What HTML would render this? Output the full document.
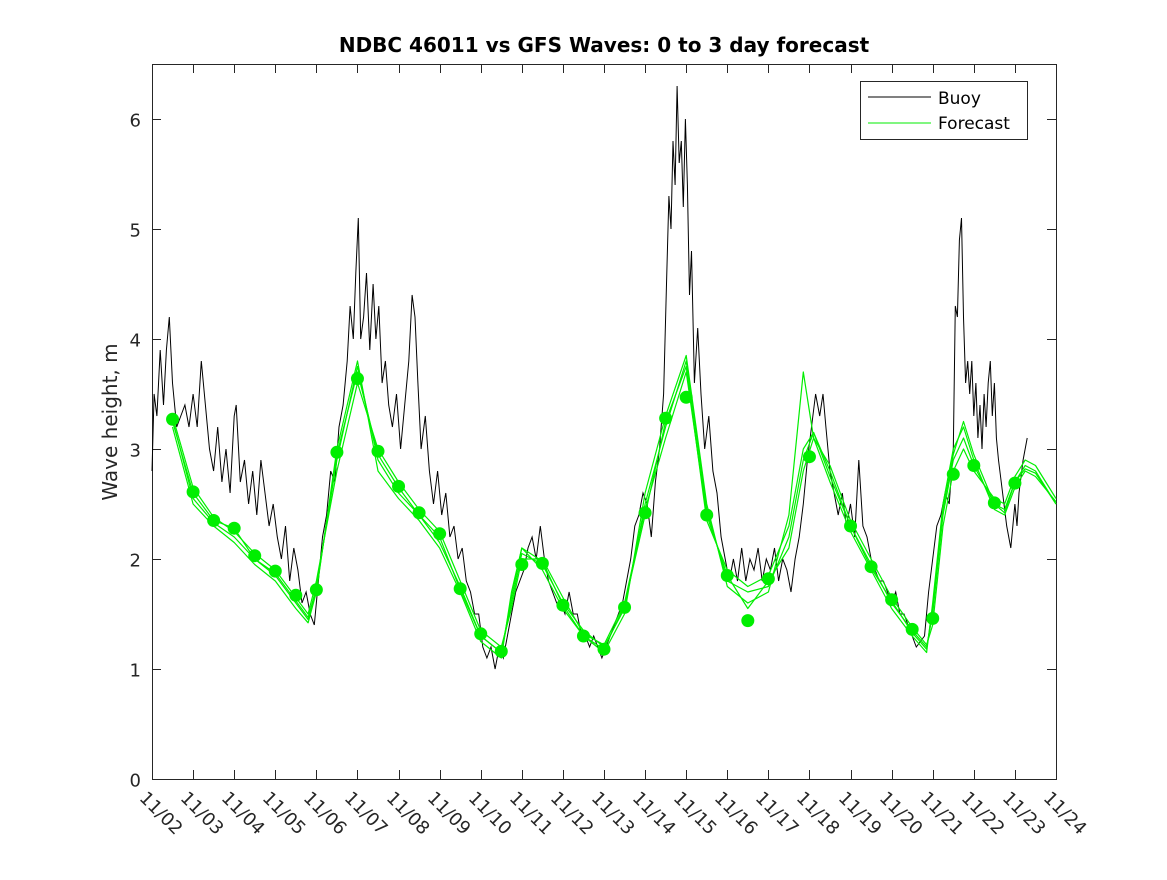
<!DOCTYPE html>
<html><head><meta charset="utf-8"><style>
body{margin:0;background:#fff;}
svg text{font-family:"DejaVu Sans","Liberation Sans",sans-serif;}
</style></head><body>
<svg id="chart" width="1167" height="875">
<rect x="0" y="0" width="1167" height="875" fill="#fff"/>
<text x="604" y="52" text-anchor="middle" font-size="20" font-weight="bold">NDBC 46011 vs GFS Waves: 0 to 3 day forecast</text>
<g id="plot"></g>
<text transform="translate(117,422) rotate(-90)" text-anchor="middle" font-size="20" fill="#262626">Wave height, m</text>
<g>
<rect x="860.5" y="81.5" width="167" height="58" fill="#fff" stroke="#262626"/>
<line x1="868" y1="97" x2="931" y2="97" stroke="#000"/>
<text x="938" y="104" font-size="17" fill="#000">Buoy</text>
<line x1="868" y1="123" x2="931" y2="123" stroke="#00ee00"/>
<text x="938" y="129" font-size="17" fill="#000">Forecast</text>
</g>
</svg>
<script>
const yTicks=[0,1,2,3,4,5,6];
const xTickLabels=["11/02","11/03","11/04","11/05","11/06","11/07","11/08","11/09","11/10","11/11","11/12","11/13","11/14","11/15","11/16","11/17","11/18","11/19","11/20","11/21","11/22","11/23","11/24"];
const buoyT=[0,0.05,0.12,0.2,0.28,0.35,0.42,0.5,0.6,0.7,0.8,0.9,1.0,1.1,1.2,1.3,1.4,1.5,1.6,1.7,1.8,1.9,2.0,2.05,2.15,2.25,2.35,2.45,2.55,2.65,2.75,2.85,2.95,3.05,3.15,3.25,3.35,3.45,3.55,3.65,3.75,3.85,3.95,4.05,4.15,4.25,4.35,4.45,4.55,4.65,4.75,4.82,4.9,4.96,5.02,5.08,5.15,5.22,5.3,5.38,5.45,5.52,5.6,5.68,5.76,5.85,5.95,6.05,6.15,6.25,6.33,6.4,6.47,6.55,6.65,6.75,6.85,6.95,7.05,7.15,7.25,7.35,7.45,7.55,7.65,7.75,7.85,7.95,8.05,8.15,8.25,8.35,8.45,8.55,8.65,8.75,8.85,8.95,9.05,9.15,9.25,9.35,9.45,9.55,9.65,9.75,9.85,9.95,10.05,10.15,10.25,10.35,10.45,10.55,10.65,10.75,10.85,10.95,11.05,11.15,11.25,11.35,11.45,11.55,11.65,11.75,11.85,11.95,
12.05,12.15,12.25,12.35,12.45,12.52,12.58,12.63,12.68,12.73,12.78,12.83,12.88,12.93,12.98,13.03,13.08,13.13,13.2,13.28,13.36,
13.45,13.55,13.65,13.75,13.85,13.95,14.05,14.15,14.25,14.35,14.45,14.55,14.65,14.75,14.85,14.95,15.05,15.15,15.25,15.35,15.45,15.55,15.65,15.75,15.85,15.95,16.05,16.15,16.25,16.33,16.4,16.5,16.6,16.7,16.8,16.9,17.0,17.1,17.2,17.3,17.4,17.5,17.6,17.7,17.8,17.9,18.0,18.1,18.2,18.3,18.4,18.5,18.6,18.7,18.8,18.9,19.0,19.1,19.2,19.3,19.4,19.5,19.55,19.6,19.65,19.7,19.75,19.8,19.85,19.9,19.95,20.0,20.05,20.1,20.15,20.2,20.25,20.3,20.35,20.4,20.45,20.5,20.55,20.6,20.7,20.8,20.9,21.0,21.05,21.1,21.2,21.3,21.35];
const buoyV=[2.8,3.5,3.3,3.9,3.4,3.9,4.2,3.6,3.2,3.3,3.4,3.2,3.5,3.2,3.8,3.4,3.0,2.8,3.2,2.7,3.0,2.6,3.3,3.4,2.7,2.9,2.5,2.8,2.4,2.9,2.6,2.3,2.5,2.2,2.0,2.3,1.8,2.1,1.9,1.6,1.7,1.5,1.4,1.8,2.2,2.4,2.8,2.7,3.2,3.4,3.8,4.3,4.0,4.6,5.1,4.0,4.2,4.6,3.9,4.5,4.0,4.3,3.6,3.8,3.4,3.2,3.5,3.0,3.4,3.8,4.4,4.2,3.6,3.0,3.3,2.8,2.5,2.8,2.4,2.6,2.2,2.3,2.0,2.1,1.8,1.7,1.5,1.5,1.2,1.1,1.2,1.0,1.2,1.1,1.3,1.5,1.7,1.8,1.9,2.1,2.2,2.0,2.3,2.0,1.8,1.7,1.6,1.6,1.5,1.7,1.5,1.5,1.3,1.3,1.2,1.3,1.2,1.1,1.2,1.3,1.4,1.5,1.6,1.8,2.0,2.3,2.4,
2.6,2.5,2.2,2.7,3.0,3.5,4.5,5.3,5.0,5.8,5.4,6.3,5.6,5.8,5.2,6.0,5.4,4.4,4.8,3.6,4.1,
3.5,3.0,3.3,2.8,2.6,2.2,2.0,1.8,2.0,1.8,2.1,1.8,2.0,1.9,2.1,1.8,2.0,1.9,2.1,1.8,2.0,1.9,1.7,2.0,2.2,2.5,2.9,3.2,3.5,3.3,3.5,3.2,2.8,2.6,2.4,2.6,2.3,2.5,2.2,2.9,2.3,2.2,2.0,1.9,1.8,1.8,1.7,1.6,1.7,1.5,1.5,1.4,1.3,1.2,1.25,1.3,1.7,2.0,2.3,2.4,2.6,2.5,3.0,4.3,4.2,4.9,5.1,4.2,3.6,3.8,3.5,3.8,3.3,3.6,3.1,3.4,3.0,3.5,3.2,3.6,3.8,3.3,3.6,3.1,2.9,2.6,2.3,2.1,2.5,2.3,2.6,2.9,3.1];
const dotT=[0.5,1,1.5,2,2.5,3,3.5,4,4.5,5,5.5,6,6.5,7,7.5,8,8.5,9,9.5,10,10.5,11,11.5,12,12.5,13,13.5,14,14.5,15,16,17,17.5,18,18.5,19,19.5,20,20.5,21];
const dotV=[3.27,2.61,2.35,2.28,2.03,1.89,1.67,1.72,2.97,3.64,2.98,2.66,2.42,2.23,1.73,1.32,1.16,1.95,1.96,1.58,1.30,1.18,1.56,2.42,3.28,3.47,2.40,1.85,1.44,1.82,2.93,2.30,1.93,1.63,1.36,1.46,2.77,2.85,2.51,2.69];
const fcT=[0.5,1,1.5,2,2.5,3,3.5,3.8,4,4.5,5,5.5,6,6.5,7,7.5,8,8.5,8.75,9,9.5,10,10.5,11,11.5,12,12.5,13,13.5,14,14.5,15,15.5,15.85,16.1,16.5,17,17.5,18,18.5,18.85,19,19.25,19.5,19.75,20,20.5,20.75,21,21.25,21.5,22];
const fcA=[3.27,2.55,2.33,2.2,2.0,1.85,1.6,1.45,1.75,2.9,3.75,2.9,2.6,2.4,2.15,1.75,1.3,1.15,1.6,2.05,1.95,1.6,1.35,1.2,1.55,2.5,3.2,3.8,2.45,1.8,1.7,1.75,2.2,2.9,3.15,2.8,2.3,1.95,1.6,1.35,1.2,1.5,2.4,2.9,3.1,2.85,2.5,2.45,2.7,2.85,2.8,2.5];
const fcB=[3.2,2.5,2.3,2.15,1.95,1.8,1.55,1.42,1.7,3.0,3.8,2.8,2.55,2.35,2.1,1.7,1.25,1.1,1.7,2.1,1.9,1.55,1.3,1.15,1.5,2.6,3.3,3.85,2.5,1.75,1.6,1.7,2.4,3.7,3.1,2.7,2.25,1.9,1.55,1.3,1.15,1.6,2.5,3.0,3.2,2.9,2.45,2.4,2.65,2.8,2.75,2.52];
const fcC=[3.3,2.65,2.38,2.25,2.05,1.9,1.65,1.5,1.8,2.8,3.6,3.0,2.7,2.45,2.25,1.8,1.35,1.2,1.55,2.0,2.0,1.65,1.32,1.22,1.6,2.45,3.1,3.7,2.4,1.85,1.55,1.8,2.1,2.8,3.1,2.85,2.35,2.0,1.65,1.38,1.22,1.4,2.3,2.8,3.0,2.8,2.55,2.5,2.75,2.9,2.85,2.55];
const fcD=[3.25,2.6,2.35,2.28,2.0,1.87,1.62,1.47,1.72,2.95,3.7,2.95,2.65,2.4,2.2,1.72,1.3,1.15,1.65,2.1,1.98,1.58,1.3,1.18,1.58,2.4,3.25,3.75,2.35,1.9,1.75,1.85,2.3,3.0,3.15,2.75,2.3,1.92,1.62,1.33,1.18,1.55,2.45,2.95,3.25,2.95,2.5,2.42,2.7,2.82,2.78,2.5];
const X0=152,X1=1056,Y0=779,Y1=64;
function xs(d){return X0+d*(X1-X0)/22;}
function ys(v){return Y0-v*(Y0-Y1)/6.5;}
const NS="http://www.w3.org/2000/svg";
const plot=document.getElementById('plot');
function mk(tag,attrs,parent){const e=document.createElementNS(NS,tag);for(const k in attrs)e.setAttribute(k,attrs[k]);(parent||plot).appendChild(e);return e;}
const box=mk('rect',{x:X0+0.5,y:Y1+0.5,width:X1-X0,height:Y0-Y1,fill:'#fff',stroke:'#262626'});


yTicks.forEach(v=>{
  const y=Math.round(ys(v))+0.5;
  mk('line',{x1:X0,y1:y,x2:X0+9,y2:y,stroke:'#262626'});
  mk('line',{x1:X1-9,y1:y,x2:X1,y2:y,stroke:'#262626'});
  const t=mk('text',{x:X0-11,y:y+7,'text-anchor':'end','font-size':18,fill:'#262626'});
  t.textContent=v;
  
  
});
xTickLabels.forEach((lab,i)=>{
  const x=Math.round(xs(i))+0.5;
  mk('line',{x1:x,y1:Y0,x2:x,y2:Y0-9,stroke:'#262626'});
  mk('line',{x1:x,y1:Y1,x2:x,y2:Y1+9,stroke:'#262626'});
  const t=mk('text',{x:0,y:0,transform:`translate(${x-14},${Y0+20}) rotate(45)`,'font-size':18,fill:'#262626'});
  t.textContent=lab;
  
  
});
function pts(T,V){return T.map((t,i)=>xs(t).toFixed(1)+','+ys(V[i]).toFixed(1)).join(' ');}
const buoy=mk('polyline',{points:pts(buoyT,buoyV),fill:'none',stroke:'#000','stroke-width':1});


[fcA,fcB,fcC,fcD].forEach(arr=>{
  const l=mk('polyline',{points:pts(fcT,arr),fill:'none',stroke:'#00ee00','stroke-width':1.2,'stroke-linejoin':'round'});
  
  
});
dotT.forEach((t,i)=>{
  const c=mk('circle',{cx:xs(t),cy:ys(dotV[i]),r:6.5,fill:'#00ee00'});
  
  
});
</script>
</body></html>
